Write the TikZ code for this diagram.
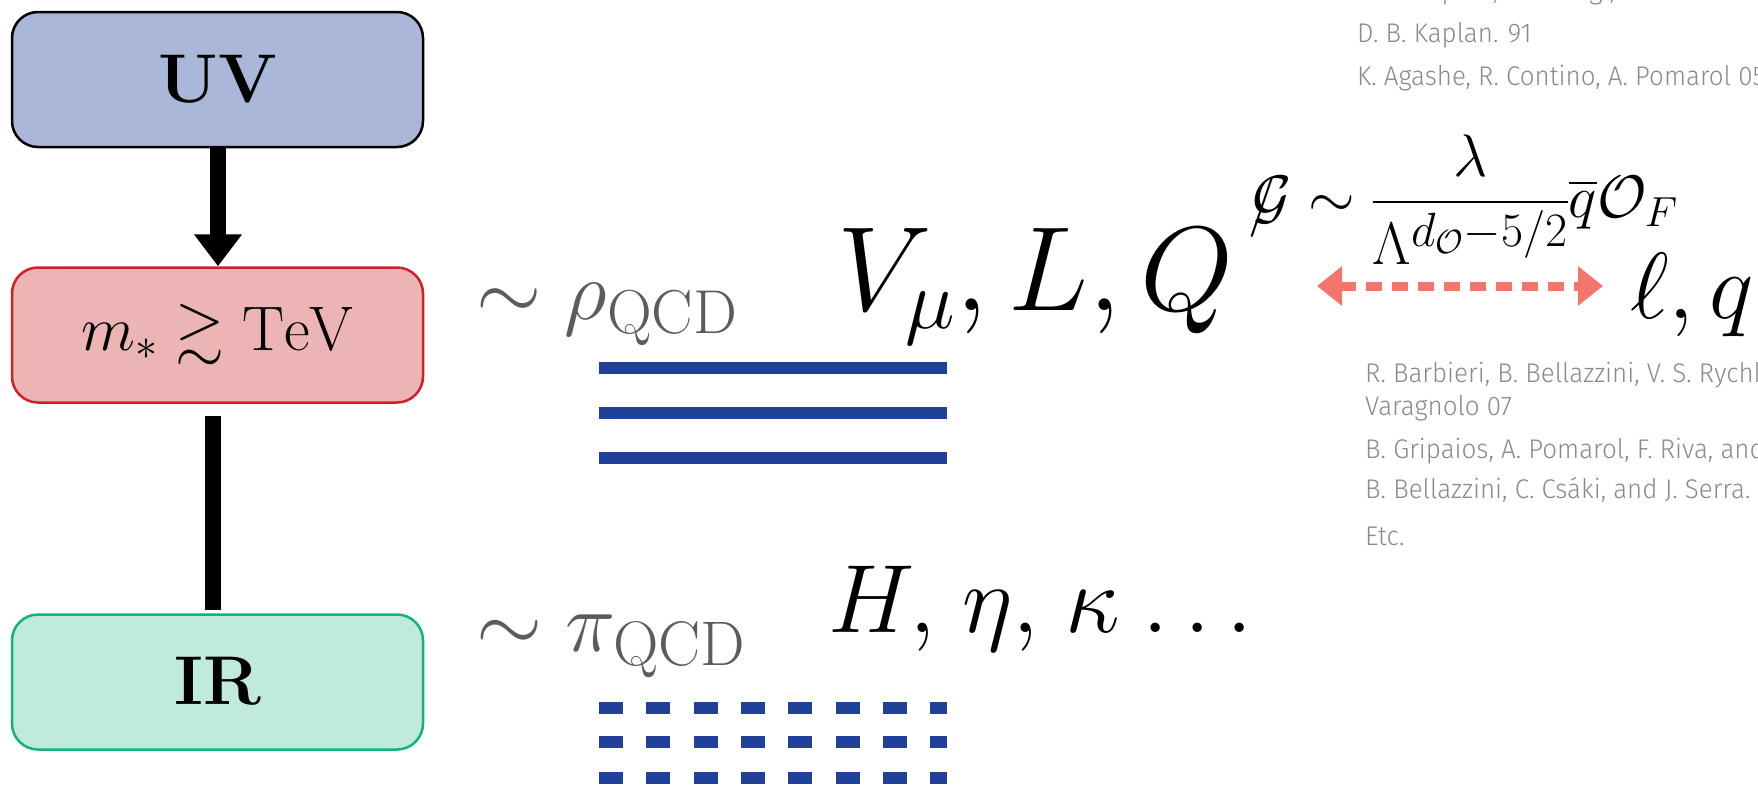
\RequirePackage{fix-cm}
\documentclass[tikz,border=0pt]{standalone}
\usepackage{amsmath,amssymb}
\usepackage{fontspec}
\newfontfamily\reffont{Fira Sans Light}[FakeStretch=0.96]
\usetikzlibrary{arrows.meta}
\definecolor{uvfill}{HTML}{AAB7D8}
\definecolor{mfill}{HTML}{ECB4B4}
\definecolor{mdraw}{HTML}{D0202A}
\definecolor{irfill}{HTML}{C0EADB}
\definecolor{irdraw}{HTML}{12B27C}
\definecolor{qcdblue}{HTML}{21409A}
\definecolor{salmon}{HTML}{F4756B}
\definecolor{greytxt}{HTML}{5C5C5C}
\definecolor{reftxt}{HTML}{8A8A8A}
\begin{document}
\begin{tikzpicture}[x=1pt,y=-1pt,
  scalebox/.style={draw, line width=2.5pt, rounded corners=26pt, minimum width=411pt, minimum height=135pt, inner sep=0pt, anchor=center, text depth=0pt},
  mathtxt/.style={inner sep=0pt, anchor=base west},
  reftext/.style={inner sep=0pt, anchor=base west, text=reftxt, font=\reffont\fontsize{27}{32}\selectfont},
  qcdline/.style={line width=12pt, draw=qcdblue}]
\useasboundingbox (0,0) rectangle (1758,785);
\fill[white] (0,0) rectangle (1758,785);
\clip (0,0) rectangle (1758,785);

% scale boxes
\node[scalebox, fill=uvfill, draw=black, text height=45pt] (uv) at (217.5,79.5) {\fontsize{69}{80}\selectfont\bfseries UV};
\node[scalebox, fill=mfill, draw=mdraw, text height=30pt] (mbox) at (217.5,335) {\fontsize{63}{74}\selectfont $m_* \gtrsim \mathrm{TeV}$};
\node[scalebox, fill=irfill, draw=irdraw, text height=44pt] (ir) at (217.5,682) {\fontsize{69}{80}\selectfont\bfseries IR};

\draw[line width=16pt, -{Triangle[length=32pt,width=46pt]}] ([xshift=0.5pt]uv.south) -- ([xshift=0.5pt]mbox.north);
\draw[line width=16pt] ([xshift=-4.5pt,yshift=-12pt]mbox.south) -- ([xshift=-4.5pt,yshift=3pt]ir.north);

% QCD analogues
\node[mathtxt, text=greytxt] (rho) at (476,319) {\fontsize{84}{100}\selectfont $\sim \rho_{\hbox{\fontsize{62}{66}\selectfont QCD}}$};
\node[mathtxt, text=greytxt] (pi) at (476,651) {\fontsize{85}{100}\selectfont $\sim \pi_{\hbox{\fontsize{63}{66}\selectfont QCD}}$};

\foreach \yy in {368,413,458} \draw[qcdline] (599,\yy) -- (947,\yy);
\foreach \yy in {708,742,778} \draw[qcdline, dash pattern=on 24pt off 23.3pt] (599,\yy) -- (947,\yy);

% states
\node[mathtxt] (vlq) at (837,310) {\fontsize{120}{140}\selectfont $V_\mu, L, Q$};
\node[mathtxt] (heta) at (828,632) {\fontsize{97}{110}\selectfont $H,\mkern2mu \eta,\mkern2mu \kappa\mkern1mu \ldots$};
\node[mathtxt] (lq) at (1630,318) {\fontsize{94}{110}\selectfont $\ell, q$};

% coupling
\node[mathtxt] (coup) at (1252,217) {\fontsize{60}{70}\selectfont $\displaystyle \rlap{\kern-4pt\raisebox{-5pt}{$/$}}\mathcal{G} \sim \frac{\lambda}{\Lambda^{\hbox{\fontsize{48}{52}\selectfont $d_{\mathcal{O}}{-}5/2$}}}\overline{q}\mathcal{O}_F$};
\coordinate (al) at (1317,286);
\coordinate (ar) at (1603,286);
\draw[salmon, line width=9pt, dash pattern=on 16pt off 10pt, {Triangle[length=25pt,width=38pt]}-{Triangle[length=25pt,width=38pt]}] (al) -- (ar);

% references
\node[reftext] (r0) at (1357,-1) {D. B. Kaplan, H. Georgi, 84};
\node[reftext] (r1) at (1357,42) {D. B. Kaplan. 91};
\node[reftext] (r2) at (1357,85) {K. Agashe, R. Contino, A. Pomarol 05};
\node[reftext] (r3) at (1365,382) {R. Barbieri, B. Bellazzini, V. S. Rychkov, and A.};
\node[reftext] (r4) at (1365,415) {Varagnolo 07};
\node[reftext] (r5) at (1365,458) {B. Gripaios, A. Pomarol, F. Riva, and J. Serra 09};
\node[reftext] (r6) at (1365,498) {B. Bellazzini, C. Csáki, and J. Serra. 14};
\node[reftext] (r7) at (1365,545) {Etc.};
\end{tikzpicture}
\end{document}
